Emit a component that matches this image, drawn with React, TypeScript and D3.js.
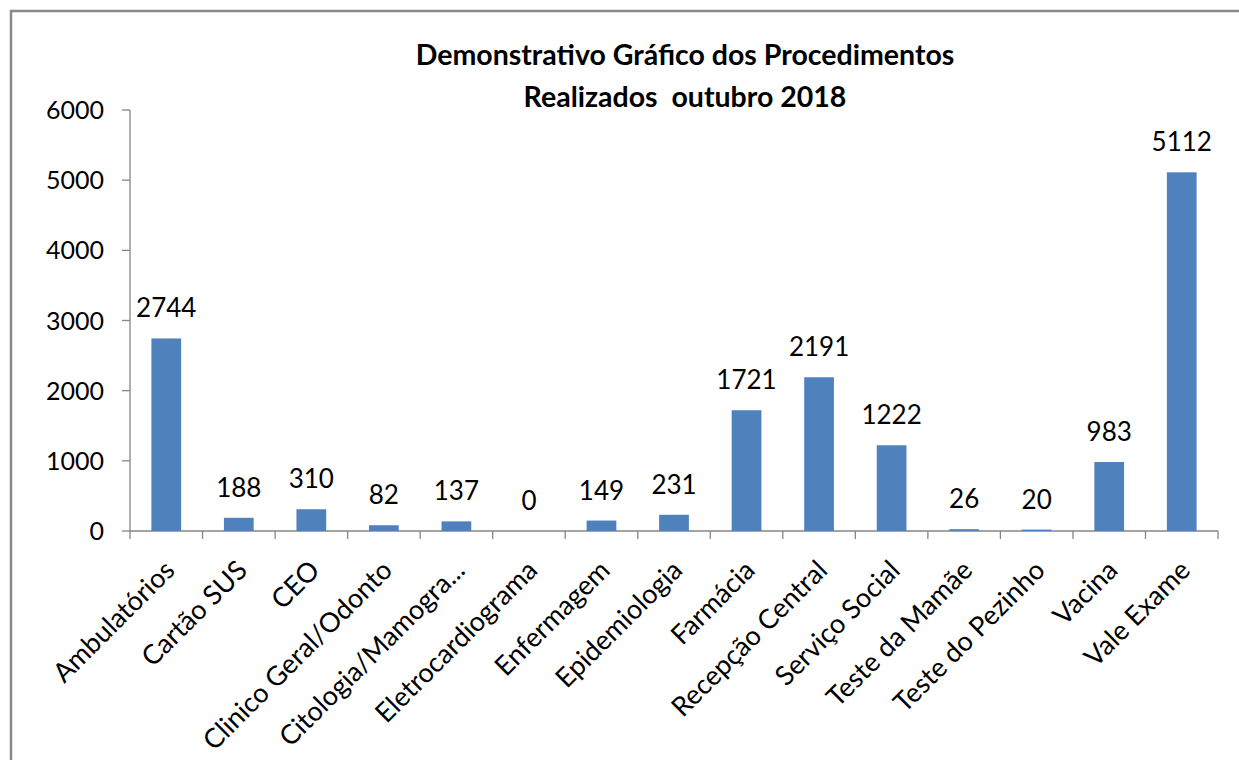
import React from "react";
import * as d3 from "d3";

const width = 1239;
const height = 760;
const margin = { top: 110, right: 21, bottom: 229, left: 130 };

const categories = [
  "Ambulatórios",
  "Cartão SUS",
  "CEO",
  "Clinico Geral/Odonto",
  "Citologia/Mamogra...",
  "Eletrocardiograma",
  "Enfermagem",
  "Epidemiologia",
  "Farmácia",
  "Recepção Central",
  "Serviço Social",
  "Teste da Mamãe",
  "Teste do Pezinho",
  "Vacina",
  "Vale Exame",
];
const values = [2744, 188, 310, 82, 137, 0, 149, 231, 1721, 2191, 1222, 26, 20, 983, 5112];
const yTicks = [0, 1000, 2000, 3000, 4000, 5000, 6000];
const titleLines = ["Demonstrativo Gráfico dos Procedimentos", "Realizados  outubro 2018"];

const font = "Lato, 'Open Sans', sans-serif";
const axisColor = "#868686";
const barColor = "#4F81BD";

export default function App() {
  const x = d3
    .scaleBand<string>()
    .domain(categories)
    .range([margin.left, width - margin.right])
    .paddingInner(0)
    .paddingOuter(0);

  const y = d3
    .scaleLinear()
    .domain([0, 6000])
    .range([height - margin.bottom, margin.top]);

  const barW = x.bandwidth() * 0.41;
  const y0 = y(0);

  return (
    <svg
      width={width}
      height={height}
      style={{ position: "absolute", left: 0, top: 0, background: "#fff" }}
      fontFamily={font}
    >
      {/* chart frame, cut off at right and bottom */}
      <rect x={11} y={11} width={1300} height={800} fill="#fff" stroke="#898989" strokeWidth={2.5} />

      {titleLines.map((t, i) => (
        <text
          key={i}
          x={685}
          y={65 + i * 42}
          textAnchor="middle"
          fontSize={28.5}
          fontWeight="bold"
          fill="#000"
          style={{ whiteSpace: "pre" }}
        >
          {t}
        </text>
      ))}

      {/* y axis */}
      <line x1={margin.left} x2={margin.left} y1={y(6000)} y2={y0} stroke={axisColor} strokeWidth={1.3} />
      {yTicks.map((t) => (
        <g key={t}>
          <line x1={margin.left - 8} x2={margin.left} y1={y(t)} y2={y(t)} stroke={axisColor} strokeWidth={1.3} />
          <text x={margin.left - 26} y={y(t)} dy="0.36em" textAnchor="end" fontSize={25} fill="#000">
            {t}
          </text>
        </g>
      ))}

      {/* x axis */}
      <line x1={margin.left} x2={width - margin.right} y1={y0} y2={y0} stroke={axisColor} strokeWidth={1.3} />
      {categories.map((c) => (
        <line
          key={c}
          x1={x(c)!}
          x2={x(c)!}
          y1={y0}
          y2={y0 + 8}
          stroke={axisColor}
          strokeWidth={1.3}
        />
      ))}
      <line
        x1={width - margin.right}
        x2={width - margin.right}
        y1={y0}
        y2={y0 + 8}
        stroke={axisColor}
        strokeWidth={1.3}
      />

      {/* bars */}
      {categories.map((c, i) => {
        const cx = x(c)! + x.bandwidth() / 2;
        return (
          <g key={c}>
            <rect x={cx - barW / 2} y={y(values[i])} width={barW} height={y0 - y(values[i])} fill={barColor} />
            <text x={cx} y={y(values[i]) - 21} textAnchor="middle" fontSize={26} fill="#000">
              {values[i]}
            </text>
          </g>
        );
      })}

      {/* category labels */}
      {categories.map((c) => {
        const cx = x(c)! + x.bandwidth() / 2;
        return (
          <text
            key={c}
            transform={`translate(${cx + 10},${y0 + 41}) rotate(-45)`}
            textAnchor="end"
            fontSize={27}
            fill="#000"
          >
            {c}
          </text>
        );
      })}
    </svg>
  );
}
